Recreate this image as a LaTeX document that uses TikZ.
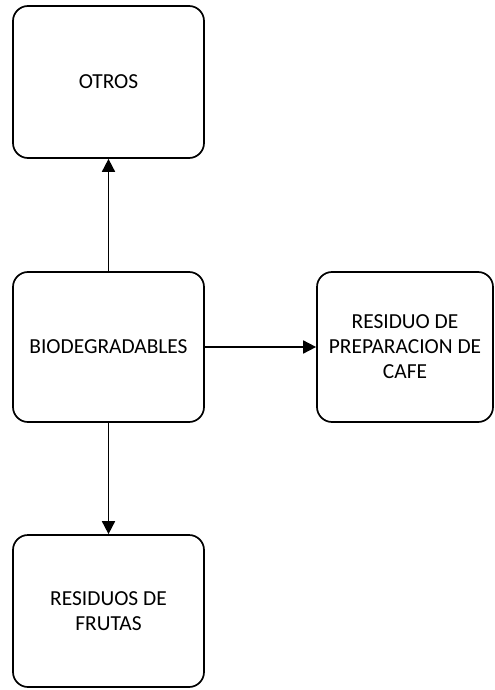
\documentclass[tikz,border=0pt]{standalone}
\usepackage{fontspec}
\setmainfont{Carlito}
\usetikzlibrary{arrows.meta}

\begin{document}
\begin{tikzpicture}[x=1bp, y=-1bp, >={Triangle[length=13bp, width=13bp]}, line width=1.7bp, font=\fontsize{21.5}{25}\selectfont]
\useasboundingbox (0, 0) rectangle (495, 690);
\node (O) at (108.5, 82) [minimum width=191bp, minimum height=152bp, rounded corners=15bp, draw, align=center] {OTROS};
\node (B) at (108.5, 347) [minimum width=191bp, minimum height=150bp, rounded corners=15bp, draw, align=center] {BIODEGRADABLES};
\node (C) at (405, 347) [minimum width=176bp, minimum height=150bp, rounded corners=15bp, draw, align=center] {RESIDUO DE\\PREPARACION DE\\CAFE};
\node (F) at (108.5, 611) [minimum width=191bp, minimum height=152bp, rounded corners=15bp, draw, align=center] {RESIDUOS DE\\FRUTAS};

\draw (B) edge [->] (O);
\draw (B) edge [->] (C);
\draw (B) edge [->] (F);
\end{tikzpicture}
\end{document}
